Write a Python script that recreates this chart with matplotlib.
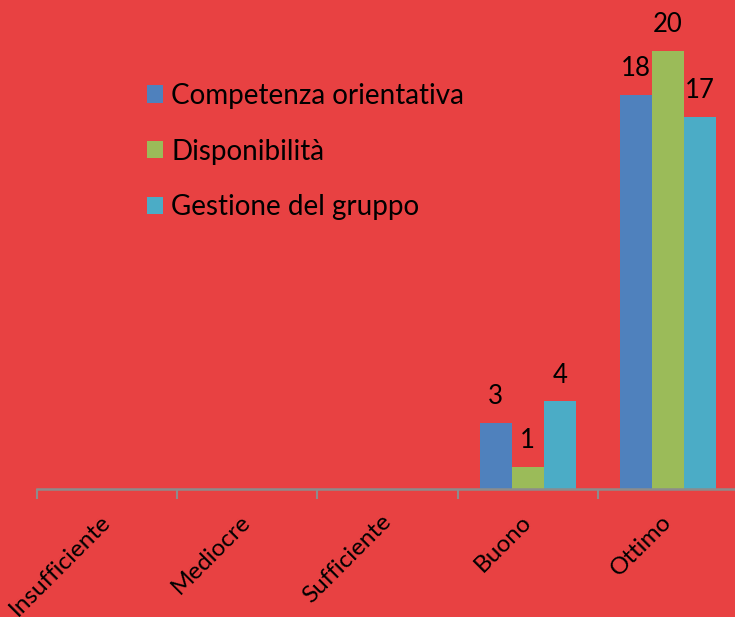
import numpy as np
import matplotlib
matplotlib.use("Agg")
import matplotlib.pyplot as plt

categories = ["Insufficiente", "Mediocre", "Sufficiente", "Buono", "Ottimo"]
series_names = ["Competenza orientativa", "Disponibilità", "Gestione del gruppo"]
competenza = [0, 0, 0, 3, 18]
disponibilita = [0, 0, 0, 1, 20]
gestione = [0, 0, 0, 4, 17]

colors = ["#4F81BD", "#9BBB59", "#4BACC6"]
bg = "#E84142"

plt.rcParams["font.family"] = ["Lato", "DejaVu Sans"]

fig = plt.figure(figsize=(7.35, 6.17), dpi=100, facecolor=bg)
ax = fig.add_axes([37 / 735, 128 / 617, 701 / 735, 489 / 617])
ax.set_facecolor(bg)

x = np.arange(len(categories))
w = 0.228
for i, (vals, name) in enumerate(zip([competenza, disponibilita, gestione], series_names)):
    bars = ax.bar(x + (i - 1) * w, vals, w, color=colors[i], label=name)
    ax.bar_label(bars, labels=[str(v) if v else "" for v in vals],
                 padding=10, fontsize=18.5)

ax.set_xlim(-0.5, 4.5)
ax.set_ylim(0, 22.33)

# tick marks on category boundaries, labels at the centres
ax.set_xticks(np.arange(-0.5, 5.0, 1.0))
ax.set_xticklabels([])
ax.set_xticks(x, minor=True)
ax.set_xticklabels(categories, minor=True, rotation=45, ha="right",
                   va="center", rotation_mode="anchor", fontsize=17.5)
ax.tick_params(axis="x", which="major", length=7, width=1.5, color="#8C8C8C")
ax.tick_params(axis="x", which="minor", length=0, pad=21)
ax.set_yticks([])

for s in ["top", "right", "left"]:
    ax.spines[s].set_visible(False)
ax.spines["bottom"].set_color("#8C8C8C")
ax.spines["bottom"].set_linewidth(1.8)

ax.legend(loc="upper left", bbox_to_anchor=(0.137, 0.859), frameon=False,
          fontsize=20, handlelength=0.58, handleheight=0.58, handletextpad=0.29,
          labelspacing=1.07, borderpad=0)

fig.savefig("out.png", dpi=100, facecolor=bg)
